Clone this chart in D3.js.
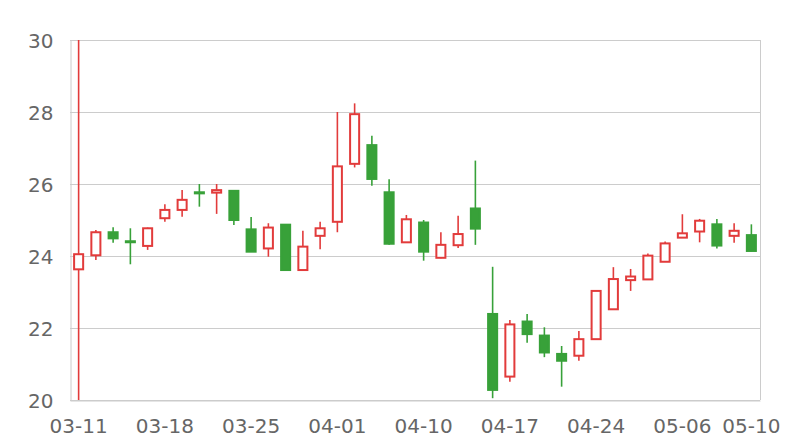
<!DOCTYPE html>
<html><head><meta charset="utf-8">
<script src="https://cdn.jsdelivr.net/npm/d3@7/dist/d3.min.js"></script>
<style>html,body{margin:0;padding:0;background:#fff;}svg{display:block;}</style>
</head><body>
<svg id="c" width="800" height="440"></svg>
<script>
const dates = ["03-11","03-12","03-13","03-14","03-15","03-18","03-19","03-20","03-21","03-22",
  "03-25","03-26","03-27","03-28","03-29","04-01","04-02","04-03","04-08","04-09",
  "04-10","04-11","04-12","04-15","04-16","04-17","04-18","04-19","04-22","04-23",
  "04-24","04-25","04-26","04-29","04-30","05-06","05-07","05-08","05-09","05-10"];
const open  = [23.63,24.02,24.66,24.41,24.28,25.05,25.28,25.77,25.76,25.81,
  24.74,24.21,24.87,23.61,24.56,24.95,26.56,27.08,25.77,24.38,
  24.93,23.95,24.30,25.32,22.39,20.65,22.18,21.79,21.28,21.23,
  21.69,22.52,23.33,23.35,23.84,24.51,24.68,24.88,24.56,24.58];
const close = [24.05,24.66,24.49,24.39,24.77,25.28,25.56,25.74,25.83,25.00,
  24.12,24.79,23.61,24.26,24.77,26.49,27.94,26.14,24.34,25.02,
  24.12,24.31,24.61,24.76,20.28,22.10,21.83,21.32,21.09,21.69,
  23.03,23.36,23.43,24.01,24.35,24.63,24.98,24.29,24.70,24.14];
const high  = [30.00,24.72,24.80,24.77,24.79,25.44,25.83,26.00,26.00,25.82,
  25.08,24.91,24.88,24.70,24.95,28.00,28.24,27.34,26.13,25.14,
  25.00,24.66,25.12,26.65,23.70,22.22,22.39,22.02,21.50,21.92,
  23.03,23.69,23.64,24.07,24.40,25.16,25.03,25.03,24.91,24.88];
const low   = [20.00,23.89,24.37,23.77,24.17,24.95,25.09,25.37,25.17,24.86,
  24.12,23.98,23.60,23.60,24.19,24.66,26.46,25.95,24.31,24.37,
  23.87,23.94,24.22,24.31,20.05,20.51,21.59,21.19,20.37,21.09,
  21.69,22.52,23.03,23.35,23.84,24.50,24.38,24.21,24.37,24.13];
const yTicks = [20,22,24,26,28,30];

const RED = "#e23b3b", GREEN = "#38a139";
const m = {l:70, r:40, t:40, b:40};
const W = 800, H = 440;
const svg = d3.select("#c");
const x = d3.scaleBand().domain(d3.range(dates.length)).range([m.l, W-m.r]).paddingInner(0.36).paddingOuter(0.18);
const y = d3.scaleLinear().domain([20,30]).range([H-m.b, m.t]);

// grid
svg.append("g").selectAll("line").data(yTicks).join("line")
  .attr("x1", m.l).attr("x2", W-m.r)
  .attr("y1", d=>Math.round(y(d))+0.5).attr("y2", d=>Math.round(y(d))+0.5)
  .attr("stroke", "#cccccc").attr("stroke-width",1);
svg.append("line").attr("x1", W-m.r+0.5).attr("x2", W-m.r+0.5).attr("y1", m.t).attr("y2", H-m.b)
  .attr("stroke","#cccccc");

// y axis
const yAxis = d3.axisLeft(y).tickValues(yTicks).tickSize(0).tickPadding(17).tickFormat(d3.format("d"));
const gy = svg.append("g").attr("transform", `translate(${m.l+0.5},0)`).call(yAxis);
gy.select(".domain").attr("stroke","#cccccc");
gy.selectAll("text").attr("font-family","DejaVu Sans").attr("font-size",20).attr("fill","#666666").attr("dy","0.35em");

// x axis
const idxTicks = d3.range(dates.length).filter(i => i%5===0 || i===dates.length-1);
const xAxis = d3.axisBottom(x).tickValues(idxTicks).tickSize(0).tickPadding(18).tickFormat(i=>dates[i]);
const gx = svg.append("g").attr("transform", `translate(0,${H-m.b+0.5})`).call(xAxis);
gx.select(".domain").attr("stroke","#cccccc");
gx.selectAll("text").attr("font-family","DejaVu Sans").attr("font-size",20).attr("fill","#666666");

// clip
svg.append("clipPath").attr("id","clip").append("rect")
  .attr("x", m.l).attr("y", m.t).attr("width", W-m.l-m.r).attr("height", H-m.t-m.b);

const data = dates.map((d,i)=>({i, o:open[i], c:close[i], h:high[i], l:low[i]}));
const g = svg.append("g").attr("clip-path","url(#clip)");
const cx = i => x(i) + x.bandwidth()/2;
const candles = g.selectAll("g.k").data(data).join("g").attr("class","k");
candles.append("line")
  .attr("x1", d=>cx(d.i)).attr("x2", d=>cx(d.i))
  .attr("y1", d=>y(d.h)).attr("y2", d=>y(Math.max(d.o,d.c)))
  .attr("stroke", d=>d.c>=d.o?RED:GREEN).attr("stroke-width",1.6);
candles.append("line")
  .attr("x1", d=>cx(d.i)).attr("x2", d=>cx(d.i))
  .attr("y1", d=>y(Math.min(d.o,d.c))).attr("y2", d=>y(d.l))
  .attr("stroke", d=>d.c>=d.o?RED:GREEN).attr("stroke-width",1.6);
candles.append("rect")
  .attr("x", d=>x(d.i)+1).attr("width", x.bandwidth()-2)
  .attr("y", d=>y(Math.max(d.o,d.c)))
  .attr("height", d=>Math.max(1, y(Math.min(d.o,d.c))-y(Math.max(d.o,d.c))))
  .attr("fill", d=>d.c>=d.o?"#ffffff":GREEN)
  .attr("stroke", d=>d.c>=d.o?RED:GREEN)
  .attr("stroke-width", 2);
</script>
</body></html>
